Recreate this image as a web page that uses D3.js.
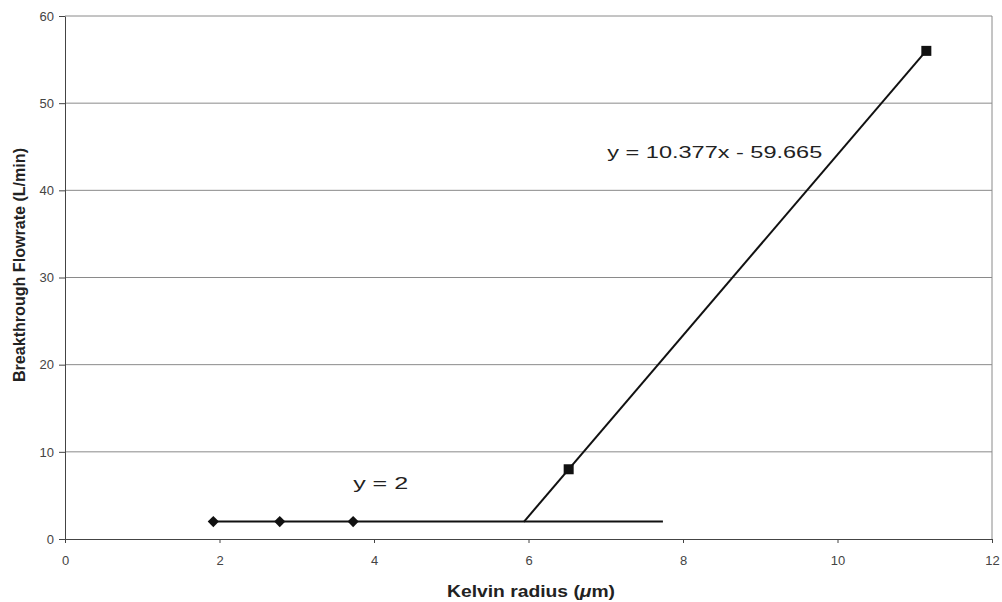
<!DOCTYPE html>
<meta charset="utf-8">
<style>
body { margin: 0; background: #fff; }
text { font-family: "Liberation Sans", Arial, sans-serif; }
.grid line { stroke: #8a8a8a; stroke-width: 1; }
.axis path, .axis line { stroke: #444; }
.axis text { font-size: 13px; fill: #444; }
</style>
<svg id="chart" width="1002" height="602"></svg>
<script src="https://cdnjs.cloudflare.com/ajax/libs/d3/7.8.5/d3.min.js"></script>
<script>

// diamonds: constant breakthrough flowrate
var diamondX = [1.92, 2.78, 3.73],
    diamondY = [2, 2, 2];
// squares: linear region
var squareX = [6.52, 11.15],
    squareY = [8, 56];
// trend lines
var flatLineX = [1.92, 7.74],
    flatLineY = [2, 2];
var slope = 10.377, intercept = -59.665;
var trendX = [5.94, 11.15];

var xTicks = [0, 2, 4, 6, 8, 10, 12],
    yTicks = [0, 10, 20, 30, 40, 50, 60];

var svg = d3.select("#chart"),
    margin = {top: 16, right: 10, bottom: 63, left: 65},
    width = +svg.attr("width") - margin.left - margin.right,
    height = +svg.attr("height") - margin.top - margin.bottom;

var x = d3.scaleLinear().domain([0, 12]).range([0, width]);
var y = d3.scaleLinear().domain([0, 60]).range([height, 0]);

var g = svg.append("g")
    .attr("transform", "translate(" + margin.left + "," + margin.top + ")");

// horizontal gridlines
g.append("g")
    .attr("class", "grid")
  .selectAll("line")
  .data(yTicks.slice(1))
  .enter().append("line")
    .attr("x1", 0)
    .attr("x2", width)
    .attr("y1", function(d) { return y(d); })
    .attr("y2", function(d) { return y(d); });

// right border
g.append("line")
    .attr("x1", width).attr("x2", width)
    .attr("y1", 0).attr("y2", height)
    .attr("stroke", "#8a8a8a");

g.append("g")
    .attr("class", "axis")
    .attr("transform", "translate(0," + height + ")")
    .call(d3.axisBottom(x).tickValues(xTicks).tickSize(4).tickPadding(13).tickSizeOuter(0));

g.append("g")
    .attr("class", "axis")
    .call(d3.axisLeft(y).tickValues(yTicks).tickSize(6).tickPadding(5).tickSizeOuter(0));

var line = d3.line()
    .x(function(d) { return x(d[0]); })
    .y(function(d) { return y(d[1]); });

// flat line y = 2
g.append("path")
    .datum(d3.zip(flatLineX, flatLineY))
    .attr("d", line)
    .attr("fill", "none")
    .attr("stroke", "#111")
    .attr("stroke-width", 2);

// linear trend
g.append("path")
    .datum(trendX.map(function(v) { return [v, slope * v + intercept]; }))
    .attr("d", line)
    .attr("fill", "none")
    .attr("stroke", "#111")
    .attr("stroke-width", 2);

// diamonds
g.selectAll(".diamond")
    .data(d3.zip(diamondX, diamondY))
  .enter().append("path")
    .attr("class", "diamond")
    .attr("d", d3.symbol().type(d3.symbolDiamond2).size(80))
    .attr("transform", function(d) { return "translate(" + x(d[0]) + "," + y(d[1]) + ")"; })
    .attr("fill", "#111");

// squares
g.selectAll(".square")
    .data(d3.zip(squareX, squareY))
  .enter().append("rect")
    .attr("class", "square")
    .attr("x", function(d) { return x(d[0]) - 5; })
    .attr("y", function(d) { return y(d[1]) - 5; })
    .attr("width", 10)
    .attr("height", 10)
    .attr("fill", "#111");

// equation labels
g.append("text")
    .attr("x", x(7.02))
    .attr("y", y(43.7))
    .attr("font-size", 17)
    .attr("textLength", 215)
    .attr("lengthAdjust", "spacingAndGlyphs")
    .attr("fill", "#222")
    .text("y = 10.377x - 59.665");

g.append("text")
    .attr("x", x(3.73))
    .attr("y", y(5.75))
    .attr("font-size", 16)
    .attr("textLength", 55)
    .attr("lengthAdjust", "spacingAndGlyphs")
    .attr("fill", "#222")
    .text("y = 2");

// axis titles
var xTitle = svg.append("text")
    .attr("x", 447)
    .attr("y", 597)
    .attr("font-size", 17)
    .attr("font-weight", "bold")
    .attr("textLength", 168)
    .attr("lengthAdjust", "spacingAndGlyphs")
    .attr("fill", "#222");
xTitle.append("tspan").text("Kelvin radius (");
xTitle.append("tspan").attr("font-style", "italic").text("μ");
xTitle.append("tspan").text("m)");

svg.append("text")
    .attr("transform", "translate(25,265) rotate(-90)")
    .attr("text-anchor", "middle")
    .attr("font-size", 16)
    .attr("font-weight", "bold")
    .attr("textLength", 234)
    .attr("lengthAdjust", "spacingAndGlyphs")
    .attr("fill", "#222")
    .text("Breakthrough Flowrate (L/min)");

</script>
